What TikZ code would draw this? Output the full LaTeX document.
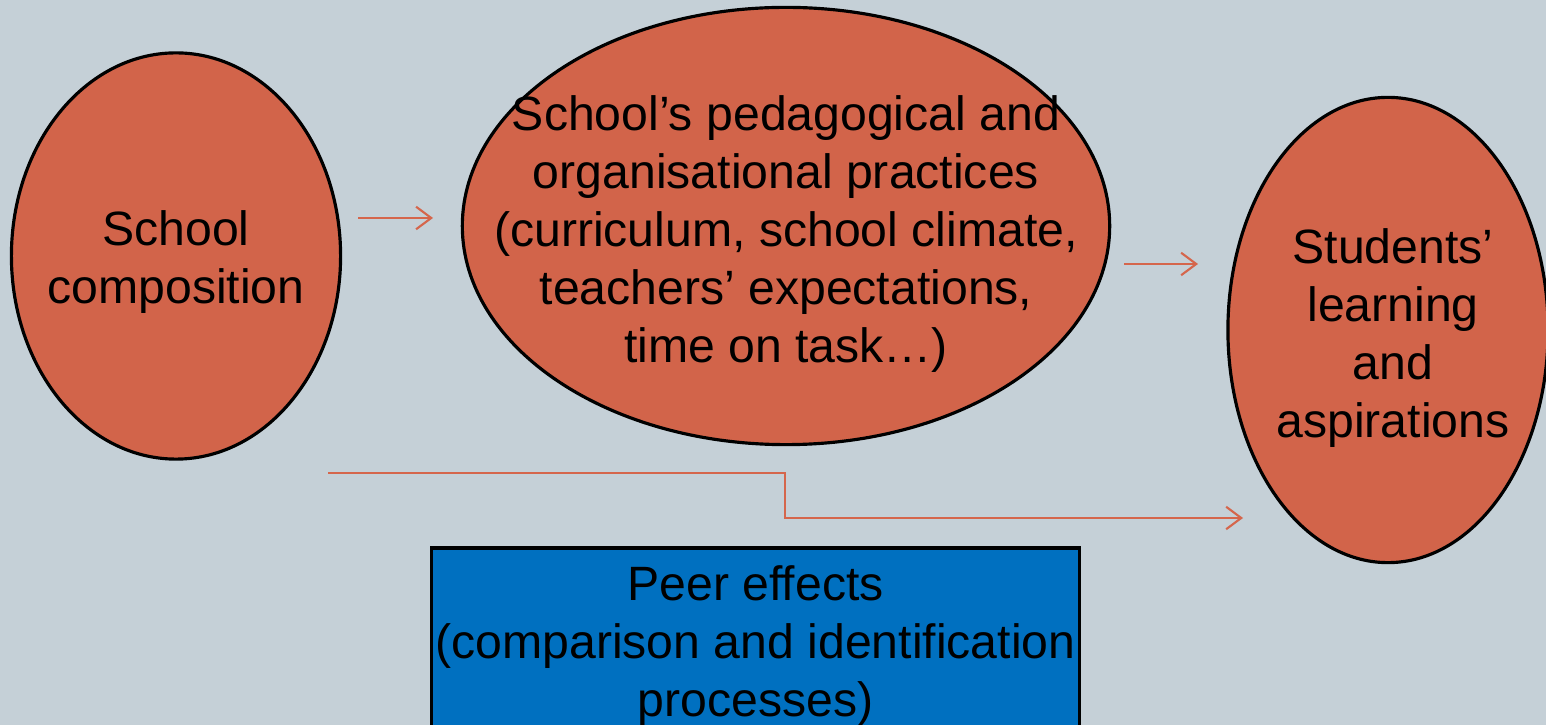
\documentclass[tikz,border=0pt]{standalone}
\usepackage{fontspec}
\setmainfont{Liberation Sans}
\usetikzlibrary{shapes.geometric,arrows.meta}
\definecolor{slide}{HTML}{C5D0D7}
\definecolor{brick}{HTML}{D2644A}
\definecolor{arrowred}{HTML}{D5664C}
\definecolor{peerblue}{HTML}{0070C0}
\begin{document}
\begin{tikzpicture}
			[x=0.01cm,y=-0.01cm,
			every ellipse node/.style={draw,fill=brick,line width=0.9pt,inner sep=0pt},
			txt/.style={align=center,font=\fontsize{13.7}{16.5}\selectfont},
			link/.style={draw=arrowred,line width=0.6pt,-{Straight Barb[length=4.3pt,width=6.4pt]}}]
			\clip (0,0) rectangle (1546,725);
			\fill[slide] (0,0) rectangle (1546,725);
			% the three ellipses
			\node[ellipse,minimum width=3.29cm,minimum height=4.06cm] (comp) at (176,256) {};
			\node[ellipse,minimum width=6.47cm,minimum height=4.37cm] (prac) at (786,226) {};
			\node[ellipse,minimum width=3.20cm,minimum height=4.65cm] (learn) at (1388,330) {};
			\node[txt] (comptext) at (176,262) {School\\composition};
			\node[txt] (practext) at (786,234) {School’s pedagogical and\\organisational practices\\(curriculum, school climate,\\teachers’ expectations,\\time on task…)};
			\node[txt] (learntext) at (1393,338) {Students’\\learning\\and\\aspirations};
			% peer effects box
			\node[txt,draw,fill=peerblue,line width=0.9pt,minimum width=6.47cm,minimum height=1.96cm,inner sep=0pt] (peer) at (755.5,646)
			{Peer effects\\(comparison and identification\\processes)};
			% arrows
			\coordinate (a1) at (358,218);
			\coordinate (b1) at (433,218);
			\coordinate (a2) at (1124,264);
			\coordinate (b2) at (1198,264);
			\coordinate (a3) at (328,473);
			\coordinate (k3) at (785,473);
			\coordinate (k4) at (785,518);
			\coordinate (b3) at (1243,518);
			\draw[link] (a1) -- (b1);
			\draw[link] (a2) -- (b2);
			\draw[link] (a3) -- (k3) -- (k4) -- (b3);
		\end{tikzpicture}
\end{document}
